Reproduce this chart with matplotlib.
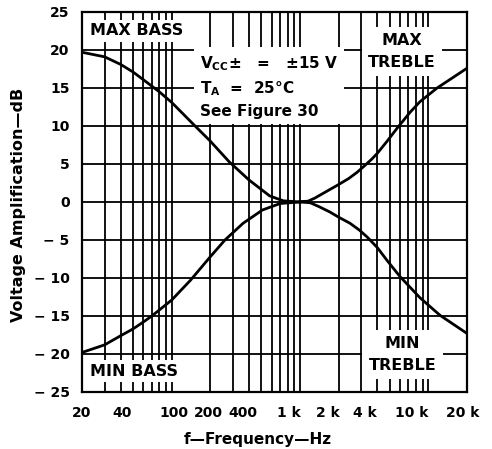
import numpy as np
import matplotlib.pyplot as plt
from matplotlib.transforms import ScaledTranslation

# ---------------------------
# data
# ---------------------------

max_bass_f = [20, 30, 40, 50, 60, 80, 100, 150, 200, 280, 400, 580, 740, 1000]
max_bass_db = [19.7, 19.1, 18.1, 17.1, 16.1, 14.5, 13.1, 10.1, 8.0, 5.3, 2.9, 0.8, 0.15, 0.0]

min_bass_f = [20, 30, 40, 50, 60, 70, 100, 140, 200, 260, 360, 510, 700, 1000]
min_bass_db = [-19.8, -18.8, -17.6, -16.7, -15.8, -15.0, -12.9, -10.3, -7.2, -5.0, -2.8, -1.05, -0.2, 0.0]

max_treble_f = [1000, 1150, 1300, 1500, 2000, 2400, 2780, 3200, 3600, 4000, 4770, 5700,
                7200, 8600, 11700, 20000]
max_treble_db = [0.05, 0.1, 0.5, 1.1, 2.3, 3.1, 3.9, 4.8, 5.6, 6.4, 8.0, 9.7,
                 11.8, 13.2, 15.0, 17.6]

min_treble_f = [1000, 1200, 1400, 1700, 2000, 2450, 2900, 3330, 4000, 4770, 6000, 8600,
                12300, 20000]
min_treble_db = [0.0, -0.1, -0.6, -1.3, -2.0, -2.8, -3.7, -4.6, -6.0, -7.7, -9.8, -12.6,
                 -14.9, -17.3]

x_ticks = [20, 40, 100, 200, 400, 1000, 2000, 4000, 10000, 20000]
x_tick_labels = ["20", "40", "100", "200", "400", "1 k", "2 k", "4 k", "10 k", "20 k"]
x_grid = [20, 30, 40, 50, 60, 70, 80, 90, 100,
          200, 300, 400, 500, 600, 700, 800, 900, 1000,
          2000, 3000, 4000, 5000, 6000, 7000, 8000, 9000, 10000, 20000]

y_ticks = [-25, -20, -15, -10, -5, 0, 5, 10, 15, 20, 25]
y_tick_labels = ["\u2212 25", "\u2212 20", "\u2212 15", "\u2212 10", "\u2212 5",
                 "0", "5", "10", "15", "20", "25"]

# horizontal nudges (px) of the x tick labels, as printed on the sheet
x_label_shift = [0, 1, 2, -2, -6, -11, -11, -12, -17, -4]


# ---------------------------
# figure
# ---------------------------

plt.rcParams["font.family"] = ["DejaVu Sans"]
plt.rcParams["font.weight"] = "bold"
plt.rcParams["axes.labelweight"] = "bold"
plt.rcParams["mathtext.default"] = "bf"

fig = plt.figure(figsize=(4.92, 4.49), dpi=100)
ax = fig.add_axes([0.1667, 0.127, 0.7825, 0.8463])

ax.set_xscale("log")
ax.set_xlim(20, 20000)
ax.set_ylim(-25, 25)

ax.set_xticks(x_ticks)
ax.set_xticklabels(x_tick_labels)
ax.set_xticks(x_grid, minor=True)
ax.set_xticklabels([], minor=True)
ax.set_yticks(y_ticks)
ax.set_yticklabels(y_tick_labels)

ax.tick_params(which="both", length=0, labelsize=10)
ax.tick_params(axis="x", pad=10)
ax.tick_params(axis="y", pad=9)

for lab, dx in zip(ax.get_xticklabels(), x_label_shift):
    lab.set_transform(lab.get_transform() + ScaledTranslation(dx / 100, 0, fig.dpi_scale_trans))

ax.grid(which="both", axis="x", color="black", linewidth=1.3)
ax.grid(which="major", axis="y", color="black", linewidth=1.3)

for s in ax.spines.values():
    s.set_linewidth(1.6)

# curves
for f, db in [(max_bass_f, max_bass_db), (min_bass_f, min_bass_db),
              (max_treble_f, max_treble_db), (min_treble_f, min_treble_db)]:
    ax.plot(f, db, color="black", linewidth=2.0, zorder=4, solid_joinstyle="round")

# labels with white boxes that hide the grid behind them
box = dict(boxstyle="square,pad=0.2", facecolor="white", edgecolor="none")
ax.text(0.021, 0.95, "MAX BASS", transform=ax.transAxes, fontsize=11.5,
        ha="left", va="center", bbox=box, zorder=3)
ax.text(0.021, 0.055, "MIN BASS", transform=ax.transAxes, fontsize=11.5,
        ha="left", va="center", bbox=box, zorder=3)

box2 = dict(boxstyle="square,pad=0.4", facecolor="white", edgecolor="none")
ax.text(0.831, 0.896, "MAX\nTREBLE", transform=ax.transAxes, fontsize=11.5,
        ha="center", va="center", linespacing=1.55, bbox=box2, zorder=3)
ax.text(0.833, 0.099, "MIN\nTREBLE", transform=ax.transAxes, fontsize=11.5,
        ha="center", va="center", linespacing=1.55, bbox=box2, zorder=3)

box3 = dict(boxstyle="square,pad=0.35", facecolor="white", edgecolor="none")
ax.text(0.306, 0.888,
        "$V_{CC}$\u00b1   =   \u00b115 V\n$T_A$  =  25\u00b0C\nSee Figure 30",
        transform=ax.transAxes, fontsize=11, ha="left", va="top",
        linespacing=1.45, bbox=box3, zorder=3)

ax.set_xlabel("f\u2014Frequency\u2014Hz", fontsize=11)
ax.set_ylabel("Voltage Amplification\u2014dB", fontsize=11.5)
ax.xaxis.set_label_coords(0.457, -0.105)
ax.yaxis.set_label_coords(-0.145, 0.492)

fig.savefig("out.png", dpi=100)
